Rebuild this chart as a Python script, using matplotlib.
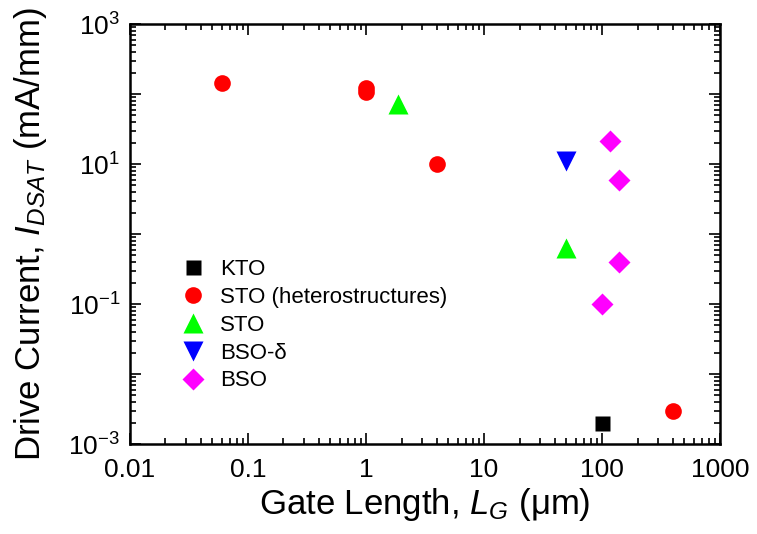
import matplotlib.pyplot as plt
from matplotlib.ticker import LogLocator, FixedLocator, FixedFormatter, NullFormatter

plt.rcParams['font.family'] = ['Liberation Sans', 'DejaVu Sans']
plt.rcParams['mathtext.fontset'] = 'custom'
plt.rcParams['mathtext.rm'] = 'Liberation Sans'
plt.rcParams['mathtext.it'] = 'Liberation Sans:italic'

# gate length (um) and drive current (mA/mm) for each material
kto_lg = [100]
kto_id = [0.002]

sto_het_lg = [0.06, 1, 1, 4, 400]
sto_het_id = [145, 123, 106, 10, 0.003]

sto_lg = [1.85, 50]
sto_id = [71, 0.64]

bso_d_lg = [50]
bso_d_id = [11.2]

bso_lg = [118, 140, 140, 100]
bso_id = [21, 5.9, 0.4, 0.1]

fig = plt.figure(figsize=(7.57, 5.34), dpi=100)
ax = fig.add_axes([0.1717, 0.1685, 0.7794, 0.7865])

ax.plot(kto_lg, kto_id, 's', color='black', ms=10.8, mec='none', label='KTO')
ax.plot(sto_het_lg, sto_het_id, 'o', color='#ff0000', ms=12, mec='none',
        label='STO (heterostructures)')
ax.plot(sto_lg, sto_id, '^', color='#00ff00', ms=14.4, mec='none', label='STO')
ax.plot(bso_d_lg, bso_d_id, 'v', color='#0000ff', ms=14.4, mec='none', label='BSO-δ')
ax.plot(bso_lg, bso_id, 'D', color='#ff00ff', ms=10.7, mec='none', label='BSO')

ax.set_xscale('log')
ax.set_yscale('log')
ax.set_xlim(0.01, 1000)
ax.set_ylim(1e-3, 1e3)

ax.xaxis.set_major_locator(FixedLocator([0.01, 0.1, 1, 10, 100, 1000]))
ax.xaxis.set_major_formatter(FixedFormatter(['0.01', '0.1', '1', '10', '100', '1000']))
ax.xaxis.set_minor_locator(LogLocator(base=10, subs=range(2, 10), numticks=20))
ax.xaxis.set_minor_formatter(NullFormatter())

ydec = [1e-3, 1e-2, 1e-1, 1, 10, 100, 1000]
ylab = ['$10^{-3}$', '', '$10^{-1}$', '', '$10^{1}$', '', '$10^{3}$']
ax.yaxis.set_major_locator(FixedLocator(ydec))
ax.yaxis.set_major_formatter(FixedFormatter(ylab))
ax.yaxis.set_minor_locator(LogLocator(base=10, subs=range(2, 10), numticks=20))
ax.yaxis.set_minor_formatter(NullFormatter())

ax.tick_params(which='both', direction='in', top=True, right=True, width=1.2, labelsize=19)
ax.tick_params(which='major', length=8)
ax.tick_params(which='minor', length=4.5)
ax.tick_params(axis='x', which='major', pad=10)
ax.tick_params(axis='y', which='major', pad=7)
for s in ax.spines.values():
    s.set_linewidth(1.8)

ax.set_xlabel('Gate Length, $L_G$ (μm)', fontsize=25, labelpad=3)
ax.set_ylabel('Drive Current, $I_{DSAT}$ (mA/mm)', fontsize=25, labelpad=14)

ax.legend(loc='upper left', bbox_to_anchor=(0.07, 0.462), frameon=False, fontsize=16,
          handletextpad=0.6, labelspacing=0.31, borderaxespad=0, handlelength=1.2)

fig.savefig('out.png', dpi=100)
